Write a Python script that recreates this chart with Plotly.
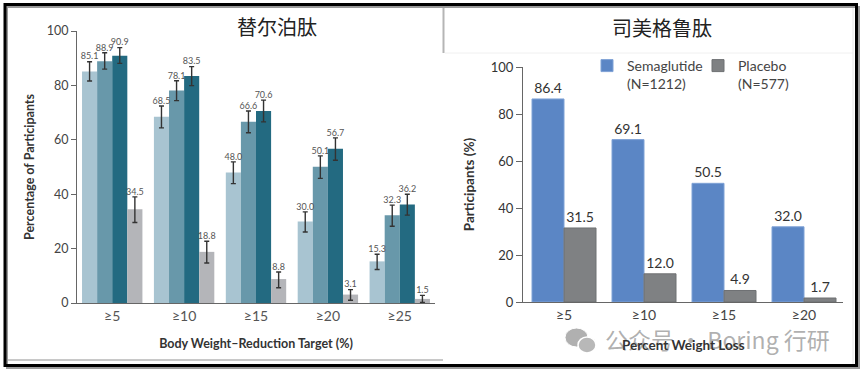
import plotly.graph_objects as go

# ---------------- data ----------------
tz_categories = ["≥5", "≥10", "≥15", "≥20", "≥25"]
tz_series = ["5 mg", "10 mg", "15 mg", "Placebo"]
tz_values = [
    [85.1, 68.5, 48.0, 30.0, 15.3],
    [88.9, 78.1, 66.6, 50.1, 32.3],
    [90.9, 83.5, 70.6, 56.7, 36.2],
    [34.5, 18.8, 8.8, 3.1, 1.5],
]
tz_err_plus = [
    [3.6, 3.9, 3.9, 3.5, 2.6],
    [3.1, 3.6, 4.0, 4.0, 3.7],
    [3.0, 3.4, 4.0, 4.0, 3.8],
    [4.5, 3.9, 2.6, 1.8, 1.3],
]
tz_err_minus = [
    [3.5, 4.1, 4.1, 3.9, 3.0],
    [2.9, 3.7, 4.0, 4.3, 4.1],
    [2.8, 3.6, 4.0, 4.2, 3.9],
    [4.9, 4.1, 3.2, 2.1, 1.3],
]
tz_colors = ["#a8c4d1", "#6898aa", "#236a81", "#b4b5b9"]

sema_categories = ["≥5", "≥10", "≥15", "≥20"]
sema_values = [86.4, 69.1, 50.5, 32.0]
placebo_values = [31.5, 12.0, 4.9, 1.7]
sema_names = ["Semaglutide<br>(N=1212)", "Placebo<br>(N=577)"]
y_ticks = [0, 20, 40, 60, 80, 100]

W, H = 865, 374
def px(x):
    return x / W
def py(y):
    return 1 - y / H

fig = go.Figure()

# ---------------- left chart (tirzepatide) ----------------
bw = 0.21
for j, (name, vals) in enumerate(zip(tz_series, tz_values)):
    xs = [i + (j - 1.5) * bw for i in range(len(tz_categories))]
    fig.add_trace(go.Bar(
        x=xs, y=vals, width=bw, name=name, showlegend=False,
        marker=dict(color=tz_colors[j], line=dict(width=0)),
        error_y=dict(type="data", symmetric=False, array=tz_err_plus[j],
                     arrayminus=tz_err_minus[j], color="#333333",
                     thickness=1.4, width=2.5),
        xaxis="x", yaxis="y",
    ))
    fig.add_trace(go.Scatter(
        x=xs, y=[v + e for v, e in zip(vals, tz_err_plus[j])],
        mode="text", text=[f"{v:.1f}" for v in vals],
        textposition="top center", showlegend=False, hoverinfo="skip",
        textfont=dict(size=9, color="#555555", family="Lato"),
        cliponaxis=False, xaxis="x", yaxis="y",
    ))

# ---------------- right chart (semaglutide) ----------------
rbw = 0.4
fig.add_trace(go.Bar(
    x=[i - rbw / 2 for i in range(len(sema_categories))], y=sema_values,
    width=rbw, name=sema_names[0],
    marker=dict(color="#5b86c5", line=dict(color="#7fa2d6", width=1)),
    text=[f"{v:.1f}" for v in sema_values], textposition="outside",
    textfont=dict(size=14, color="#333333", family="Lato"),
    cliponaxis=False, xaxis="x2", yaxis="y2",
))
fig.add_trace(go.Bar(
    x=[i + rbw / 2 for i in range(len(sema_categories))], y=placebo_values,
    width=rbw, name=sema_names[1],
    marker=dict(color="#7f8183", line=dict(color="#6f7173", width=1)),
    text=[f"{v:.1f}" for v in placebo_values], textposition="outside",
    textfont=dict(size=14, color="#333333", family="Lato"),
    cliponaxis=False, xaxis="x2", yaxis="y2",
))

axis_common = dict(showgrid=False, zeroline=False, showline=True, linecolor="#666666",
                   linewidth=1.2)

fig.update_layout(
    width=W, height=H, margin=dict(l=0, r=0, t=0, b=0, autoexpand=False),
    paper_bgcolor="white", plot_bgcolor="white",
    barmode="overlay",
    font=dict(family="Lato", color="#333333"),
    xaxis=dict(domain=[px(77), px(435)], range=[-0.49, 4.49],
               tickmode="array", tickvals=list(range(len(tz_categories))),
               ticktext=tz_categories, ticks="",
               tickfont=dict(size=14, color="#555555"), anchor="y",
               title=dict(text="<b>Body Weight–Reduction Target (%)</b>",
                          font=dict(size=12.5, color="#333333"), standoff=16),
               **axis_common),
    yaxis=dict(domain=[py(303), py(31)], range=[0, 100], tickvals=y_ticks,
               ticks="outside", ticklen=5, tickcolor="#666666",
               tickfont=dict(size=12.5, color="#444444"), anchor="x",
               title=dict(text="<b>Percentage of Participants</b>",
                          font=dict(size=12.5, color="#333333"), standoff=9),
               **axis_common),
    xaxis2=dict(domain=[px(523), px(843)], range=[-0.5125, 3.4875],
                tickmode="array", tickvals=list(range(len(sema_categories))),
                ticktext=sema_categories, ticks="",
                tickfont=dict(size=14, color="#444444"), anchor="y2",
                **axis_common),
    yaxis2=dict(domain=[py(302), py(67)], range=[0, 100], tickvals=y_ticks,
                ticks="outside", ticklen=6, tickcolor="#666666",
                tickfont=dict(size=13, color="#333333"), anchor="x2",
                title=dict(text="<b>Participants (%)</b>",
                           font=dict(size=13.5, color="#333333"), standoff=12),
                **axis_common),
    legend=dict(orientation="h", x=px(587), y=py(50), xanchor="left", yanchor="top",
                font=dict(size=14, color="#444444"), valign="top",
                itemwidth=30, tracegroupgap=0, entrywidth=66,
                bgcolor="rgba(0,0,0,0)"),
)

# ---------------- titles / decorations ----------------
def note(text, x, y, size, color, family, xanchor="center"):
    return dict(text=text, x=px(x), y=py(y), xref="paper", yref="paper",
                xanchor=xanchor, yanchor="middle", showarrow=False,
                font=dict(size=size, color=color, family=family))

ann = [
    note("替尔泊肽", 277, 27, 20, "#222222", "Noto Sans CJK SC"),
    note("司美格鲁肽", 662, 28, 20, "#222222", "Noto Sans CJK SC"),
    note("公众号 · Boring 行研", 603, 339, 23, "rgba(150,150,150,0.75)",
         "Noto Sans CJK SC", xanchor="left"),
    note("<b>Percent Weight Loss</b>", 683, 345, 13.5, "#333333", "Lato"),
]
fig.update_layout(annotations=ann)

shapes = []
# wechat icon
shapes.append(dict(type="circle", xref="paper", yref="paper",
                   x0=px(565), x1=px(588), y0=py(347), y1=py(328),
                   fillcolor="#b0b0b0", line=dict(color="white", width=1)))
shapes.append(dict(type="circle", xref="paper", yref="paper",
                   x0=px(578), x1=px(596), y0=py(353), y1=py(337),
                   fillcolor="#b8b8b8", line=dict(color="white", width=1.5)))
# separators from the composite screenshot
shapes.append(dict(type="line", xref="paper", yref="paper", x0=px(443.5), x1=px(443.5),
                   y0=py(7), y1=py(53), line=dict(color="#b5b5b5", width=2)))
shapes.append(dict(type="line", xref="paper", yref="paper", x0=px(445), x1=px(853),
                   y0=py(53), y1=py(53), line=dict(color="#f0f0f0", width=1)))
shapes.append(dict(type="line", xref="paper", yref="paper", x0=px(7), x1=px(443),
                   y0=py(360), y1=py(360), line=dict(color="#c8c8c8", width=2)))
shapes.append(dict(type="line", xref="paper", yref="paper", x0=px(853), x1=px(853),
                   y0=py(7), y1=py(364), line=dict(color="#e6e6e6", width=1)))
# outer frame with shadow
shapes.append(dict(type="rect", xref="paper", yref="paper", x0=px(7), x1=px(859),
                   y0=py(368), y1=py(7), line=dict(color="#9a9a9a", width=2)))
shapes.append(dict(type="rect", xref="paper", yref="paper", x0=px(5), x1=px(856.5),
                   y0=py(365.5), y1=py(4.5), line=dict(color="#000000", width=3)))
fig.update_layout(shapes=shapes)

fig.write_html("out.html",
               config={"displayModeBar": False},
               post_script="document.body.style.margin='0px';"
                           "document.body.style.overflow='hidden';")
